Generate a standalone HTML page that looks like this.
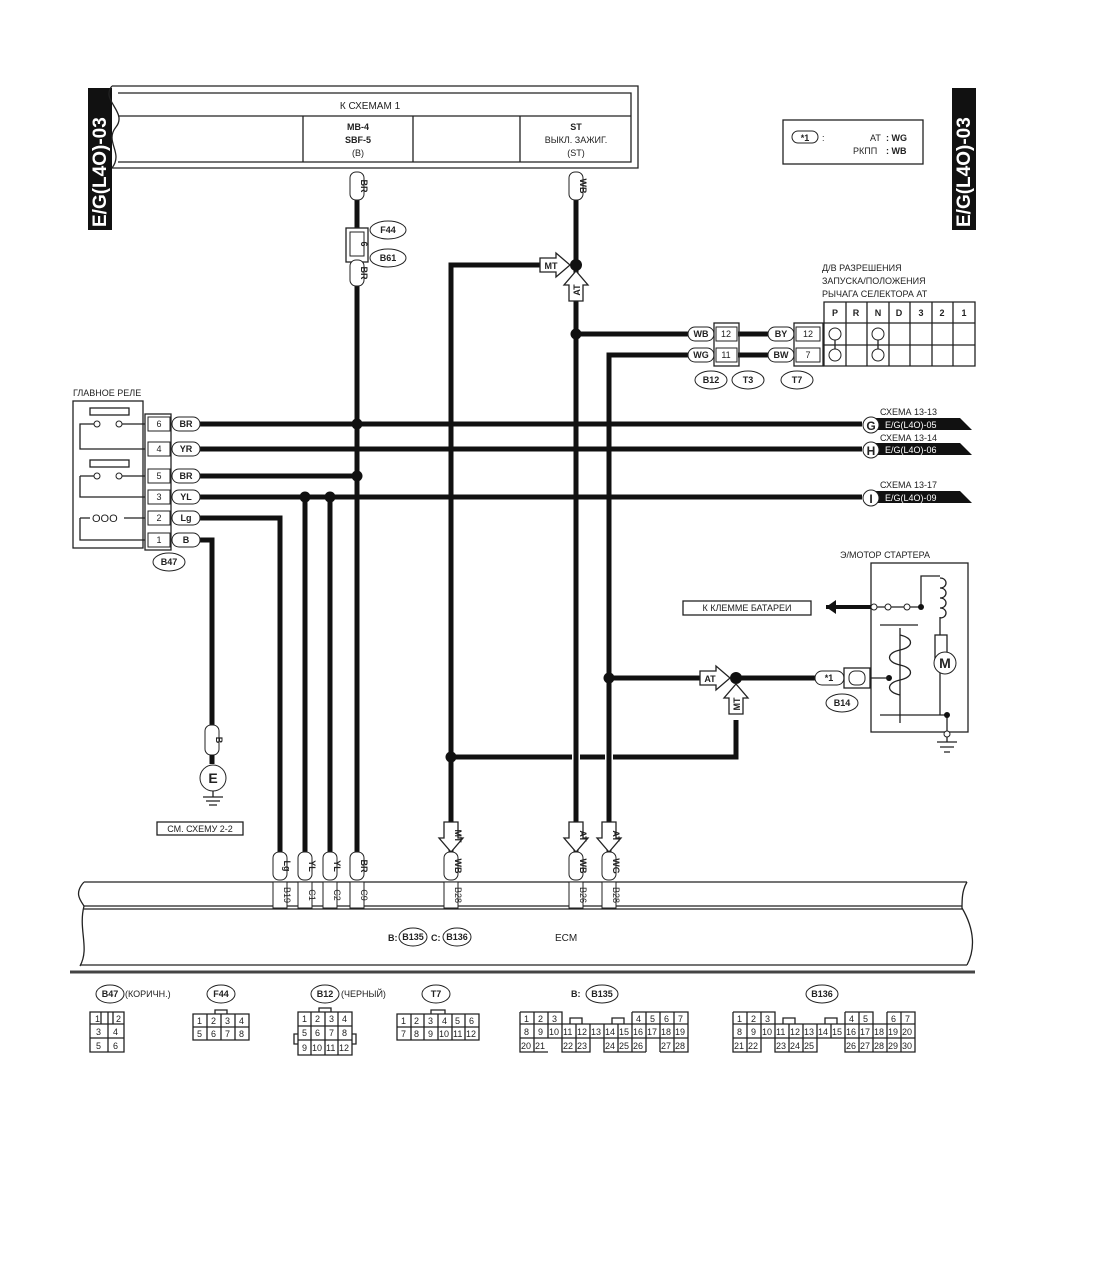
<!DOCTYPE html>
<html><head><meta charset="utf-8"><style>
html,body{margin:0;padding:0;background:#fff}
svg{display:block}
text{font-family:"Liberation Sans","DejaVu Sans",sans-serif;fill:#222}
.w{stroke:#111;stroke-width:5;fill:none}
.t{stroke:#222;stroke-width:1.3;fill:none}
.c{stroke:#222;stroke-width:1;fill:#fff}
.s{font-size:9px}
.m{font-size:10px}
.b{font-weight:bold}
</style></head><body>
<svg width="1100" height="1262" viewBox="0 0 1100 1262" xmlns="http://www.w3.org/2000/svg">
<defs>
<path id="ar" d="M-30,-7 H-14 V-12 L0,0 L-14,12 V7 H-30 Z" fill="#fff" stroke="#222" stroke-width="1.3"/>
</defs>

<!-- side labels -->
<rect x="88" y="88" width="24" height="142" fill="#111"/>
<text transform="translate(106,227) rotate(-90)" font-size="19" font-weight="bold" style="fill:#fff">E/G(L4O)-03</text>
<rect x="952" y="88" width="24" height="142" fill="#111"/>
<text transform="translate(970,227) rotate(-90)" font-size="19" font-weight="bold" style="fill:#fff">E/G(L4O)-03</text>

<!-- top box -->
<path class="t" d="M112,86 H638 V168 H112 M112,86 C100,100 128,112 116,127 C104,142 124,152 112,168" stroke-width="1.6"/>
<path class="t" d="M118,93 H631 V162 H118 M118,116 H631 M303,116 V162 M413,116 V162 M520,116 V162"/>
<text x="370" y="109" class="m" text-anchor="middle">К СХЕМАМ 1</text>
<text x="358" y="130" class="s b" text-anchor="middle">MB-4</text>
<text x="358" y="143" class="s b" text-anchor="middle">SBF-5</text>
<text x="358" y="156" class="s" text-anchor="middle">(B)</text>
<text x="576" y="130" class="s b" text-anchor="middle">ST</text>
<text x="576" y="143" class="s" text-anchor="middle">ВЫКЛ. ЗАЖИГ.</text>
<text x="576" y="156" class="s" text-anchor="middle">(ST)</text>

<!-- legend -->
<rect x="783" y="120" width="140" height="44" class="t"/>
<rect x="792" y="131" width="26" height="12" rx="6" class="c"/>
<text x="805" y="141" class="s b" text-anchor="middle">*1</text>
<text x="822" y="141" class="s">:</text>
<text x="870" y="141" class="s">AT</text><text x="886" y="141" class="s b">: WG</text>
<text x="853" y="154" class="s">РКПП</text><text x="886" y="154" class="s b">: WB</text>

<!-- main wires -->
<path class="w" d="M357,200 V228 M357,262 V880"/>
<path class="w" d="M576,200 V880"/>
<path class="w" d="M545,265 H451 V880"/>
<path class="w" d="M451,757 H572 M580,757 H605 M613,757 H736 V720"/>
<path class="w" d="M576,334 H688"/>
<path class="w" d="M609,880 V355 H688"/>
<path class="w" d="M609,678 H700 M736,678 H815"/>
<path class="w" d="M738,334 H768 M738,355 H768"/>
<path class="w" d="M200,424 H862 M200,449 H862 M200,476 H357 M200,497 H862"/>
<path class="w" d="M200,518 H280 V880 M200,540 H212 V725 M305,497 V880 M330,497 V880"/>
<circle cx="357" cy="424" r="5.5" fill="#111"/><circle cx="357" cy="476" r="5.5" fill="#111"/>
<circle cx="305" cy="497" r="5.5" fill="#111"/><circle cx="330" cy="497" r="5.5" fill="#111"/>
<circle cx="576" cy="265" r="6" fill="#111"/><circle cx="576" cy="334" r="5.5" fill="#111"/>
<circle cx="451" cy="757" r="5.5" fill="#111"/><circle cx="609" cy="678" r="5.5" fill="#111"/>
<circle cx="736" cy="678" r="6" fill="#111"/>

<!-- pills top -->
<rect x="350" y="172" width="14" height="28" rx="6" class="c"/>
<text transform="translate(361,186) rotate(90)" class="s b" text-anchor="middle">BR</text>
<rect x="569" y="172" width="14" height="28" rx="6" class="c"/>
<text transform="translate(580,186) rotate(90)" class="s b" text-anchor="middle">WB</text>
<rect x="346" y="228" width="22" height="34" class="t" fill="#fff"/>
<rect x="350" y="232" width="14" height="24" class="c"/>
<text transform="translate(361,244) rotate(90)" class="s b" text-anchor="middle">6</text>
<rect x="350" y="260" width="14" height="26" rx="6" class="c"/>
<text transform="translate(361,273) rotate(90)" class="s b" text-anchor="middle">BR</text>
<ellipse cx="388" cy="230" rx="18" ry="9" class="c" stroke-width="1.4"/><text x="388" y="233" class="s b" text-anchor="middle">F44</text>
<ellipse cx="388" cy="258" rx="18" ry="9" class="c" stroke-width="1.4"/><text x="388" y="261" class="s b" text-anchor="middle">B61</text>

<!-- MT/AT arrows at ST junction -->
<use href="#ar" x="570" y="265"/><text x="551" y="269" class="s b" text-anchor="middle">MT</text>
<use href="#ar" transform="translate(576,271) rotate(-90)"/>
<text transform="translate(580,290) rotate(-90)" class="s b" text-anchor="middle">AT</text>
<use href="#ar" x="730" y="678"/><text x="710" y="682" class="s b" text-anchor="middle">AT</text>
<use href="#ar" transform="translate(736,684) rotate(-90)"/>
<text transform="translate(740,704) rotate(-90)" class="s b" text-anchor="middle">MT</text>

<!-- B12/T3/T7 connectors -->
<rect x="688" y="327" width="26" height="14" rx="7" class="c"/><text x="701" y="337" class="s b" text-anchor="middle">WB</text>
<rect x="688" y="348" width="26" height="14" rx="7" class="c"/><text x="701" y="358" class="s b" text-anchor="middle">WG</text>
<rect x="714" y="323" width="25" height="43" class="t" fill="#fff"/>
<rect x="716" y="327" width="21" height="14" class="c"/><text x="726" y="337" class="s" text-anchor="middle">12</text>
<rect x="716" y="348" width="21" height="14" class="c"/><text x="726" y="358" class="s" text-anchor="middle">11</text>
<rect x="768" y="327" width="26" height="14" rx="7" class="c"/><text x="781" y="337" class="s b" text-anchor="middle">BY</text>
<rect x="768" y="348" width="26" height="14" rx="7" class="c"/><text x="781" y="358" class="s b" text-anchor="middle">BW</text>
<rect x="794" y="323" width="29" height="43" class="t" fill="#fff"/>
<rect x="796" y="327" width="24" height="14" class="c"/><text x="808" y="337" class="s" text-anchor="middle">12</text>
<rect x="796" y="348" width="24" height="14" class="c"/><text x="808" y="358" class="s" text-anchor="middle">7</text>
<ellipse cx="711" cy="380" rx="16" ry="9" class="c" stroke-width="1.4"/><text x="711" y="383" class="s b" text-anchor="middle">B12</text>
<ellipse cx="748" cy="380" rx="16" ry="9" class="c" stroke-width="1.4"/><text x="748" y="383" class="s b" text-anchor="middle">T3</text>
<ellipse cx="797" cy="380" rx="16" ry="9" class="c" stroke-width="1.4"/><text x="797" y="383" class="s b" text-anchor="middle">T7</text>

<!-- switch table -->
<text x="822" y="271" class="s">Д/В РАЗРЕШЕНИЯ</text>
<text x="822" y="284" class="s">ЗАПУСКА/ПОЛОЖЕНИЯ</text>
<text x="822" y="297" class="s">РЫЧАГА СЕЛЕКТОРА АТ</text>
<path class="t" d="M824,302 H975 V366 H824 Z M824,323 H975 M824,345 H975 M846,302 V366 M867,302 V366 M889,302 V366 M910,302 V366 M932,302 V366 M953,302 V366"/>
<text x="835" y="316" class="s b" text-anchor="middle">P</text><text x="856" y="316" class="s b" text-anchor="middle">R</text>
<text x="878" y="316" class="s b" text-anchor="middle">N</text><text x="899" y="316" class="s b" text-anchor="middle">D</text>
<text x="921" y="316" class="s b" text-anchor="middle">3</text><text x="942" y="316" class="s b" text-anchor="middle">2</text>
<text x="964" y="316" class="s b" text-anchor="middle">1</text>
<path class="t" d="M835,340 V349 M878,340 V349"/>
<circle cx="835" cy="334" r="6" class="c" stroke-width="1.4"/><circle cx="835" cy="355" r="6" class="c" stroke-width="1.4"/>
<circle cx="878" cy="334" r="6" class="c" stroke-width="1.4"/><circle cx="878" cy="355" r="6" class="c" stroke-width="1.4"/>

<!-- relay -->
<text x="73" y="396" class="s">ГЛАВНОЕ РЕЛЕ</text>
<rect x="73" y="401" width="70" height="147" class="t"/>
<rect x="90" y="408" width="39" height="7" class="t"/>
<path class="t" d="M94,424 H80 V449 H145 M122,424 H145 M80,476 V497 H145 M94,476 H80 M122,476 H145 M80,518 V540 H145 M80,518 H90 M124,518 H145"/>
<circle cx="97" cy="424" r="3" class="c" stroke-width="1.3"/><circle cx="119" cy="424" r="3" class="c" stroke-width="1.3"/>
<rect x="90" y="460" width="39" height="7" class="t"/>
<circle cx="97" cy="476" r="3" class="c" stroke-width="1.3"/><circle cx="119" cy="476" r="3" class="c" stroke-width="1.3"/>
<text x="92" y="522" font-size="11">OOO</text>
<rect x="145" y="414" width="26" height="136" class="t" fill="#fff"/>
<rect x="148" y="417" width="22" height="14" class="c"/><text x="159" y="427" class="s" text-anchor="middle">6</text>
<rect x="148" y="442" width="22" height="14" class="c"/><text x="159" y="452" class="s" text-anchor="middle">4</text>
<rect x="148" y="469" width="22" height="14" class="c"/><text x="159" y="479" class="s" text-anchor="middle">5</text>
<rect x="148" y="490" width="22" height="14" class="c"/><text x="159" y="500" class="s" text-anchor="middle">3</text>
<rect x="148" y="511" width="22" height="14" class="c"/><text x="159" y="521" class="s" text-anchor="middle">2</text>
<rect x="148" y="533" width="22" height="14" class="c"/><text x="159" y="543" class="s" text-anchor="middle">1</text>
<rect x="172" y="417" width="28" height="14" rx="7" class="c"/><text x="186" y="427" class="s b" text-anchor="middle">BR</text>
<rect x="172" y="442" width="28" height="14" rx="7" class="c"/><text x="186" y="452" class="s b" text-anchor="middle">YR</text>
<rect x="172" y="469" width="28" height="14" rx="7" class="c"/><text x="186" y="479" class="s b" text-anchor="middle">BR</text>
<rect x="172" y="490" width="28" height="14" rx="7" class="c"/><text x="186" y="500" class="s b" text-anchor="middle">YL</text>
<rect x="172" y="511" width="28" height="14" rx="7" class="c"/><text x="186" y="521" class="s b" text-anchor="middle">Lg</text>
<rect x="172" y="533" width="28" height="14" rx="7" class="c"/><text x="186" y="543" class="s b" text-anchor="middle">B</text>
<ellipse cx="169" cy="562" rx="16" ry="9" class="c" stroke-width="1.4"/><text x="169" y="565" class="s b" text-anchor="middle">B47</text>

<!-- ground E -->
<rect x="205" y="725" width="14" height="30" rx="6" class="c"/>
<text transform="translate(216,740) rotate(90)" class="s b" text-anchor="middle">B</text>
<path class="w" d="M212,755 V764" stroke-width="3"/>
<circle cx="213" cy="778" r="13" class="c" stroke-width="2"/>
<text x="213" y="783" font-size="14" font-weight="bold" text-anchor="middle">E</text>
<path class="t" d="M213,791 V797 M203,797 H223 M206,801 H220 M209,805 H217"/>
<rect x="157" y="822" width="86" height="13" class="t"/>
<text x="200" y="832" class="s" text-anchor="middle">СМ. СХЕМУ 2-2</text>

<!-- G H I -->
<text x="880" y="415" class="s">СХЕМА 13-13</text>
<text x="880" y="441" class="s">СХЕМА 13-14</text>
<text x="880" y="488" class="s">СХЕМА 13-17</text>
<path d="M872,418 H960 L972,430 H872 Z" fill="#111"/>
<path d="M872,443 H960 L972,455 H872 Z" fill="#111"/>
<path d="M872,491 H960 L972,503 H872 Z" fill="#111"/>
<text x="885" y="428" class="s" style="fill:#fff">E/G(L4O)-05</text>
<text x="885" y="453" class="s" style="fill:#fff">E/G(L4O)-06</text>
<text x="885" y="501" class="s" style="fill:#fff">E/G(L4O)-09</text>
<circle cx="871" cy="425" r="8" class="c" stroke-width="1.6"/><text x="871" y="430" font-size="12" font-weight="bold" text-anchor="middle">G</text>
<circle cx="871" cy="450" r="8" class="c" stroke-width="1.6"/><text x="871" y="455" font-size="12" font-weight="bold" text-anchor="middle">H</text>
<circle cx="871" cy="498" r="8" class="c" stroke-width="1.6"/><text x="871" y="503" font-size="12" font-weight="bold" text-anchor="middle">I</text>

<!-- starter -->
<text x="840" y="558" class="s">Э/МОТОР СТАРТЕРА</text>
<rect x="871" y="563" width="97" height="169" class="t"/>
<rect x="683" y="601" width="128" height="14" fill="#fff" stroke="#222" stroke-width="1.3"/>
<text x="747" y="611" class="s" text-anchor="middle">К КЛЕММЕ БАТАРЕИ</text>
<path d="M826,607 H871" stroke="#111" stroke-width="4"/>
<path d="M826,607 L836,600 V614 Z" fill="#111"/>
<path class="t" d="M874,607 H921 V576 H940 M940,617 V635 M940,665 V715 M880,715 H947 V732 M900,628 V723 M880,625 H918"/>
<circle cx="874" cy="607" r="3" class="c"/><circle cx="888" cy="607" r="3" class="c"/><circle cx="907" cy="607" r="3" class="c"/>
<circle cx="921" cy="607" r="3" fill="#111"/>
<path class="t" d="M940,578 c8,0 8,10 0,10 c8,0 8,10 0,10 c8,0 8,10 0,10 c8,0 8,10 0,10"/>
<rect x="935" y="635" width="12" height="30" class="t" fill="#fff"/>
<circle cx="945" cy="663" r="11" class="c" stroke-width="1.8"/>
<text x="945" y="668" font-size="14" font-weight="bold" text-anchor="middle">M</text>
<path class="t" d="M900,635 c14,3 14,12 0,15 c-14,3 -14,12 0,15 c14,3 14,12 0,15 c-14,3 -14,12 0,15"/>
<circle cx="947" cy="715" r="3" fill="#111"/><circle cx="889" cy="678" r="3" fill="#111"/>
<path class="t" d="M871,678 H889"/>
<circle cx="947" cy="734" r="3" class="c"/>
<path class="t" d="M947,737 V742 M937,742 H957 M940,747 H954 M944,752 H950"/>
<rect x="815" y="671" width="29" height="14" rx="7" class="c"/><text x="829" y="681" class="s b" text-anchor="middle">*1</text>
<rect x="844" y="668" width="26" height="20" class="t" fill="#fff"/>
<rect x="849" y="671" width="16" height="14" rx="6" class="c"/>
<ellipse cx="842" cy="703" rx="16" ry="9" class="c" stroke-width="1.4"/><text x="842" y="706" class="s b" text-anchor="middle">B14</text>

<!-- bottom arrows -->
<use href="#ar" transform="translate(451,852) rotate(90)"/><text transform="translate(455,836) rotate(90)" class="s b" text-anchor="middle">MT</text>
<use href="#ar" transform="translate(576,852) rotate(90)"/><text transform="translate(580,836) rotate(90)" class="s b" text-anchor="middle">AT</text>
<use href="#ar" transform="translate(609,852) rotate(90)"/><text transform="translate(613,836) rotate(90)" class="s b" text-anchor="middle">AT</text>

<!-- ECM -->
<path class="t" d="M84,882 H967 M84,906 H962 M84,909 H962 M80,965 H967" stroke-width="1.4"/>
<path class="t" d="M84,882 C74,893 80,900 84,906 C78,930 90,948 80,966"/>
<path class="t" d="M967,882 C962,890 962,900 962,908 C975,930 975,950 967,965"/>
<path d="M70,972 H975" stroke="#444" stroke-width="3"/>
<g>
<rect x="273" y="852" width="14" height="28" rx="6" class="c"/><text transform="translate(284,866) rotate(90)" class="s b" text-anchor="middle">Lg</text>
<rect x="273" y="882" width="14" height="26" class="c"/><text transform="translate(284,895) rotate(90)" class="s" text-anchor="middle">B19</text>
<rect x="298" y="852" width="14" height="28" rx="6" class="c"/><text transform="translate(309,866) rotate(90)" class="s b" text-anchor="middle">YL</text>
<rect x="298" y="882" width="14" height="26" class="c"/><text transform="translate(309,895) rotate(90)" class="s" text-anchor="middle">C1</text>
<rect x="323" y="852" width="14" height="28" rx="6" class="c"/><text transform="translate(334,866) rotate(90)" class="s b" text-anchor="middle">YL</text>
<rect x="323" y="882" width="14" height="26" class="c"/><text transform="translate(334,895) rotate(90)" class="s" text-anchor="middle">C2</text>
<rect x="350" y="852" width="14" height="28" rx="6" class="c"/><text transform="translate(361,866) rotate(90)" class="s b" text-anchor="middle">BR</text>
<rect x="350" y="882" width="14" height="26" class="c"/><text transform="translate(361,895) rotate(90)" class="s" text-anchor="middle">C9</text>
<rect x="444" y="852" width="14" height="28" rx="6" class="c"/><text transform="translate(455,866) rotate(90)" class="s b" text-anchor="middle">WB</text>
<rect x="444" y="882" width="14" height="26" class="c"/><text transform="translate(455,895) rotate(90)" class="s" text-anchor="middle">B28</text>
<rect x="569" y="852" width="14" height="28" rx="6" class="c"/><text transform="translate(580,866) rotate(90)" class="s b" text-anchor="middle">WB</text>
<rect x="569" y="882" width="14" height="26" class="c"/><text transform="translate(580,895) rotate(90)" class="s" text-anchor="middle">B26</text>
<rect x="602" y="852" width="14" height="28" rx="6" class="c"/><text transform="translate(613,866) rotate(90)" class="s b" text-anchor="middle">WG</text>
<rect x="602" y="882" width="14" height="26" class="c"/><text transform="translate(613,895) rotate(90)" class="s" text-anchor="middle">B28</text>
</g>
<text x="388" y="941" class="s b">B:</text>
<ellipse cx="413" cy="937" rx="14" ry="9" class="c" stroke-width="1.4"/><text x="413" y="940" class="s b" text-anchor="middle">B135</text>
<text x="431" y="941" class="s b">C:</text>
<ellipse cx="457" cy="937" rx="14" ry="9" class="c" stroke-width="1.4"/><text x="457" y="940" class="s b" text-anchor="middle">B136</text>
<text x="555" y="941" class="m">ECM</text>

<!-- bottom connector legends -->
<g font-size="9">
<ellipse cx="110" cy="994" rx="14" ry="9" class="c" stroke-width="1.4"/><text x="110" y="997" class="s b" text-anchor="middle">B47</text>
<text x="125" y="997" class="s">(КОРИЧН.)</text>
<ellipse cx="221" cy="994" rx="14" ry="9" class="c" stroke-width="1.4"/><text x="221" y="997" class="s b" text-anchor="middle">F44</text>
<ellipse cx="325" cy="994" rx="14" ry="9" class="c" stroke-width="1.4"/><text x="325" y="997" class="s b" text-anchor="middle">B12</text>
<text x="341" y="997" class="s">(ЧЕРНЫЙ)</text>
<ellipse cx="436" cy="994" rx="14" ry="9" class="c" stroke-width="1.4"/><text x="436" y="997" class="s b" text-anchor="middle">T7</text>
<text x="571" y="997" class="s b">B:</text>
<ellipse cx="602" cy="994" rx="16" ry="9" class="c" stroke-width="1.4"/><text x="602" y="997" class="s b" text-anchor="middle">B135</text>
<ellipse cx="822" cy="994" rx="16" ry="9" class="c" stroke-width="1.4"/><text x="822" y="997" class="s b" text-anchor="middle">B136</text>

<path class="t" stroke-width="0.9" d="M90,1012 H124 V1052 H90 Z M90,1024 H124 M90,1038 H124 M101,1012 V1024 M108,1012 V1052 M113,1012 V1024"/>
<text x="95" y="1022">1</text><text x="116" y="1022">2</text><text x="96" y="1035">3</text><text x="113" y="1035">4</text><text x="96" y="1049">5</text><text x="113" y="1049">6</text>

<path class="t" stroke-width="0.9" d="M193,1014 H249 V1040 H193 Z M193,1027 H249 M207,1014 V1040 M221,1014 V1040 M235,1014 V1040 M215,1014 V1010 H227 V1014"/>
<text x="197" y="1024">1</text><text x="211" y="1024">2</text><text x="225" y="1024">3</text><text x="239" y="1024">4</text>
<text x="197" y="1037">5</text><text x="211" y="1037">6</text><text x="225" y="1037">7</text><text x="239" y="1037">8</text>

<path class="t" stroke-width="0.9" d="M298,1012 H352 V1055 H298 Z M298,1026 H352 M298,1040 H352 M311,1012 V1055 M325,1012 V1055 M338,1012 V1055 M319,1012 V1008 H331 V1012 M298,1034 H294 V1044 H298 M352,1034 H356 V1044 H352"/>
<text x="302" y="1022">1</text><text x="315" y="1022">2</text><text x="329" y="1022">3</text><text x="342" y="1022">4</text>
<text x="302" y="1036">5</text><text x="315" y="1036">6</text><text x="329" y="1036">7</text><text x="342" y="1036">8</text>
<text x="302" y="1051">9</text><text x="312" y="1051">10</text><text x="326" y="1051">11</text><text x="339" y="1051">12</text>

<path class="t" stroke-width="0.9" d="M397,1014 H479 V1040 H397 Z M397,1027 H479 M411,1014 V1040 M424,1014 V1040 M438,1014 V1040 M452,1014 V1040 M465,1014 V1040 M431,1014 V1010 H445 V1014"/>
<text x="401" y="1024">1</text><text x="414" y="1024">2</text><text x="428" y="1024">3</text><text x="442" y="1024">4</text><text x="455" y="1024">5</text><text x="469" y="1024">6</text>
<text x="401" y="1037">7</text><text x="414" y="1037">8</text><text x="428" y="1037">9</text><text x="439" y="1037">10</text><text x="453" y="1037">11</text><text x="466" y="1037">12</text>

<path class="t" stroke-width="0.9" d="M520,1012 H562 V1024 M520,1012 V1052 H548 M534,1012 V1052 M548,1012 V1024 M562,1024 V1012 M632,1012 H688 V1052 H660 M632,1012 V1052 M646,1012 V1052 M660,1012 V1052 M674,1012 V1052 M520,1024 H688 M520,1038 H688 M562,1024 V1052 H590 V1024 M576,1024 V1052 M604,1024 V1052 H646 M618,1024 V1052 M570,1024 V1018 H582 V1024 M612,1024 V1018 H624 V1024 M548,1024 V1038 M590,1024 V1038"/>
<text x="524" y="1022">1</text><text x="538" y="1022">2</text><text x="552" y="1022">3</text><text x="636" y="1022">4</text><text x="650" y="1022">5</text><text x="664" y="1022">6</text><text x="678" y="1022">7</text>
<text x="524" y="1035">8</text><text x="538" y="1035">9</text><text x="549" y="1035">10</text><text x="563" y="1035">11</text><text x="577" y="1035">12</text><text x="591" y="1035">13</text><text x="605" y="1035">14</text><text x="619" y="1035">15</text><text x="633" y="1035">16</text><text x="647" y="1035">17</text><text x="661" y="1035">18</text><text x="675" y="1035">19</text>
<text x="521" y="1049">20</text><text x="535" y="1049">21</text><text x="563" y="1049">22</text><text x="577" y="1049">23</text><text x="605" y="1049">24</text><text x="619" y="1049">25</text><text x="633" y="1049">26</text><text x="661" y="1049">27</text><text x="675" y="1049">28</text>

<path class="t" stroke-width="0.9" d="M733,1012 H775 V1024 M733,1012 V1052 H761 V1024 M747,1012 V1052 M761,1012 V1024 M845,1012 H873 V1024 M845,1012 V1052 H873 M859,1012 V1052 M873,1024 V1052 M887,1012 H915 V1052 H873 M887,1012 V1052 M901,1012 V1052 M733,1024 H915 M733,1038 H915 M775,1024 V1052 H817 V1024 M789,1024 V1052 M803,1024 V1052 M831,1024 V1038 M783,1024 V1018 H795 V1024 M825,1024 V1018 H837 V1024"/>
<text x="737" y="1022">1</text><text x="751" y="1022">2</text><text x="765" y="1022">3</text><text x="849" y="1022">4</text><text x="863" y="1022">5</text><text x="891" y="1022">6</text><text x="905" y="1022">7</text>
<text x="737" y="1035">8</text><text x="751" y="1035">9</text><text x="762" y="1035">10</text><text x="776" y="1035">11</text><text x="790" y="1035">12</text><text x="804" y="1035">13</text><text x="818" y="1035">14</text><text x="832" y="1035">15</text><text x="846" y="1035">16</text><text x="860" y="1035">17</text><text x="874" y="1035">18</text><text x="888" y="1035">19</text><text x="902" y="1035">20</text>
<text x="734" y="1049">21</text><text x="748" y="1049">22</text><text x="776" y="1049">23</text><text x="790" y="1049">24</text><text x="804" y="1049">25</text><text x="846" y="1049">26</text><text x="860" y="1049">27</text><text x="874" y="1049">28</text><text x="888" y="1049">29</text><text x="902" y="1049">30</text>
</g>
</svg>
</body></html>
